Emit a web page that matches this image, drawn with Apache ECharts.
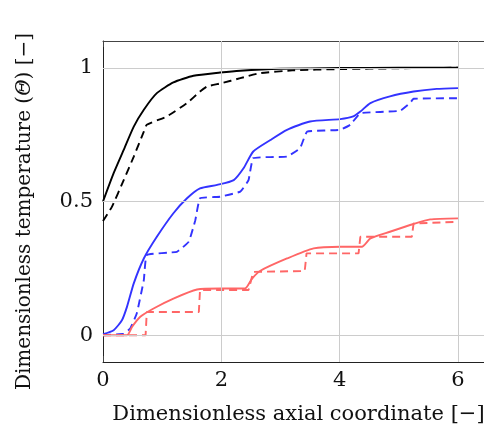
<!DOCTYPE html>
<html><head><meta charset="utf-8">
<script src="https://cdn.jsdelivr.net/npm/echarts@6/dist/echarts.min.js"></script>
<style>html,body{margin:0;padding:0;background:#fff}#c{width:484px;height:427px}</style>
</head><body><div id="c"></div>
<script>
const xTicks = [0, 2, 4, 6];
const yTicks = [0, 0.5, 1];
const xTickLabels = ['0', '2', '4', '6'];
const yTickLabels = ['0', '0.5', '1'];

const blackSolidX = [0,0.18,0.35,0.52,0.69,0.91,1.19,1.53,1.98,2.32,3.0,4.0,5.0,6.0];
const blackSolidY = [0.5,0.606,0.693,0.78,0.843,0.905,0.945,0.97,0.982,0.989,0.996,0.999,1.0,1.0];

const blackDashX = [0,0.15,0.35,0.52,0.69,0.74,1.08,1.42,1.64,1.76,2.0,2.32,2.66,3.2,4.0,5.0,6.0];
const blackDashY = [0.427,0.48,0.58,0.668,0.761,0.787,0.818,0.868,0.911,0.93,0.942,0.961,0.98,0.99,0.995,0.998,1.0];

const blueSolidX = [0,0.18,0.32,0.405,0.52,0.69,0.91,1.19,1.42,1.64,1.93,2.21,2.375,2.54,2.83,3.11,3.5,4.01,4.23,4.35,4.52,4.85,5.25,5.64,6.0];
const blueSolidY = [0.004,0.019,0.056,0.106,0.194,0.287,0.368,0.456,0.512,0.549,0.562,0.58,0.624,0.687,0.73,0.768,0.799,0.808,0.818,0.836,0.868,0.893,0.911,0.921,0.924];

const blueDashX = [0,0.35,0.46,0.57,0.69,0.74,1.25,1.45,1.56,1.64,1.98,2.32,2.46,2.54,3.11,3.33,3.45,4.01,4.18,4.35,5.02,5.19,5.25,6.0];
const blueDashY = [0,0.006,0.025,0.081,0.206,0.30,0.312,0.35,0.43,0.512,0.518,0.537,0.58,0.662,0.668,0.699,0.761,0.768,0.787,0.83,0.839,0.868,0.884,0.886];

const redSolidX = [0,0.405,0.49,0.63,0.855,1.19,1.59,1.98,2.4,2.52,2.66,3.11,3.56,4.01,4.375,4.52,4.85,5.25,5.53,6.0];
const redSolidY = [0,0,0.031,0.069,0.1,0.137,0.171,0.175,0.175,0.212,0.241,0.287,0.325,0.331,0.331,0.362,0.387,0.416,0.433,0.437];

const redDashX = [0,0.72,0.74,1.62,1.64,2.46,2.54,3.41,3.44,4.32,4.35,5.22,5.25,6.0];
const redDashY = [0,0,0.087,0.087,0.169,0.169,0.237,0.24,0.306,0.306,0.368,0.368,0.418,0.424];

const FONT = 'DejaVu Serif';
function pairs(xs, ys) { return xs.map((x, i) => [x, ys[i]]); }

const chart = echarts.init(document.getElementById('c'), null, {renderer: 'canvas'});
function lineSeries(xs, ys, color, dashed, smooth) {
  return {
    type: 'line', data: pairs(xs, ys), showSymbol: false, symbol: 'none',
    smooth: smooth, z: 3, silent: true,
    lineStyle: {color: color, width: 1.9, type: dashed ? [8, 5] : 'solid'}
  };
}
const gridLineData = xTicks.filter(v => v !== 0).map(v => ({xAxis: v}))
  .concat(yTicks.map(v => ({yAxis: v})));

chart.setOption({
  animation: false,
  grid: {left: 103, top: 41, width: 381, height: 321, containLabel: false, outerBoundsMode: 'none'},
  xAxis: [{
    type: 'value', min: 0, max: 6.44, position: 'bottom',
    axisLine: {show: true, onZero: false, lineStyle: {color: '#222', width: 1}},
    axisTick: {show: true, inside: true, length: 6, customValues: xTicks, lineStyle: {color: '#444'}},
    axisLabel: {show: true, customValues: xTicks, formatter: v => xTickLabels[xTicks.indexOf(v)],
      fontFamily: FONT, fontSize: 21, color: '#111', margin: 8},
    splitLine: {show: false},
    name: 'Dimensionless axial coordinate [\u2212]', nameLocation: 'middle', nameGap: 42,
    nameTextStyle: {fontFamily: FONT, fontSize: 21, color: '#111', padding: [0, 0, 0, 10]}
  }, {
    type: 'value', min: 0, max: 6.44, position: 'top',
    axisLine: {show: true, onZero: false, lineStyle: {color: '#444', width: 1}},
    axisTick: {show: true, inside: true, length: 6, customValues: xTicks, lineStyle: {color: '#444'}},
    axisLabel: {show: false}, splitLine: {show: false}
  }],
  yAxis: [{
    type: 'value', min: -0.1, max: 1.1, position: 'left',
    axisLine: {show: true, onZero: false, lineStyle: {color: '#222', width: 1}},
    axisTick: {show: true, inside: true, length: 6, customValues: yTicks, lineStyle: {color: '#444'}},
    axisLabel: {show: true, customValues: yTicks, formatter: v => yTickLabels[yTicks.indexOf(v)],
      fontFamily: FONT, fontSize: 21, color: '#111', margin: 10},
    splitLine: {show: false},
    name: 'Dimensionless temperature ({i|\u0398}) [\u2212]', nameLocation: 'middle', nameGap: 68,
    nameTextStyle: {fontFamily: FONT, fontSize: 20, color: '#111', padding: [0, 20, 0, 0],
      rich: {i: {fontFamily: FONT, fontSize: 20, fontStyle: 'italic', color: '#111'}}}
  }],
  series: [
    {type: 'line', data: [], z: 1, silent: true,
      markLine: {silent: true, symbol: ['none', 'none'], label: {show: false},
        lineStyle: {color: '#cccccc', width: 1, type: 'solid'}, data: gridLineData, animation: false}},
    lineSeries(blackSolidX, blackSolidY, '#000000', false, 0.2),
    lineSeries(blackDashX, blackDashY, '#000000', true, 0.15),
    lineSeries(blueSolidX, blueSolidY, '#3333ff', false, 0.2),
    lineSeries(blueDashX, blueDashY, '#3333ff', true, 0.1),
    lineSeries(redSolidX, redSolidY, '#ff6666', false, 0.2),
    lineSeries(redDashX, redDashY, '#ff6666', true, 0)
  ]
});
</script></body></html>
